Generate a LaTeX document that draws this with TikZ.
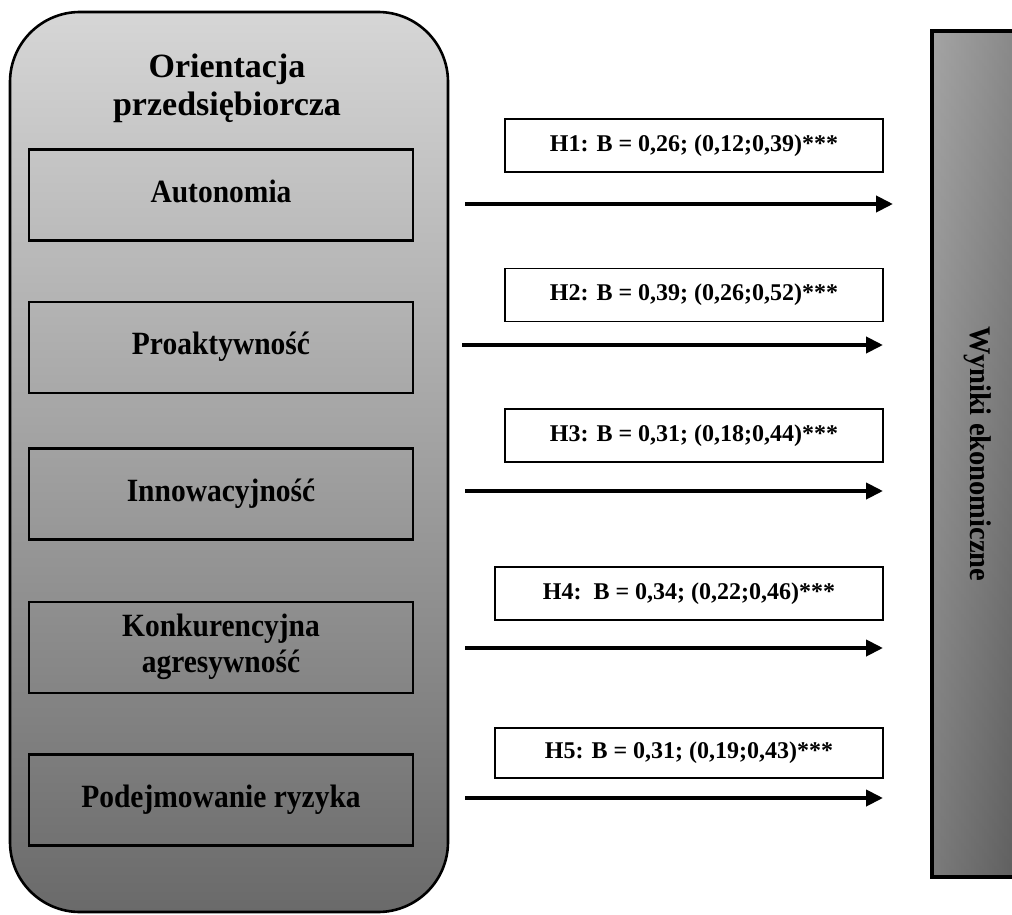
\documentclass[tikz,border=0pt]{standalone}
\usepackage{fontspec}
\setmainfont{Liberation Serif}
\usetikzlibrary{arrows.meta}
\definecolor{outerTop}{HTML}{D6D6D6}
\definecolor{outerBot}{HTML}{6A6A6A}
\definecolor{resLeft}{HTML}{939393}
\definecolor{resRight}{HTML}{707070}
% slightly tall lettering for the dimension labels
\newcommand\tallText[1]{\scalebox{1}[1.1]{\begin{tabular}{@{}c@{}}#1\end{tabular}}}
\begin{document}
\begin{tikzpicture}[x=1pt,y=-1pt,
  dimbox/.style={draw=black, line width=2.6pt, minimum width=384pt,
    minimum height=91pt, inner sep=0pt, align=center,
    font=\fontsize{29.5}{32}\selectfont\bfseries},
  effbox/.style={draw=black, fill=white, line width=1.2pt, minimum height=53pt,
    inner sep=0pt, font=\fontsize{24}{28}\selectfont\bfseries},
  effarrow/.style={line width=4pt, -{Triangle[length=17pt,width=16pt]}}]

\useasboundingbox (0,0) rectangle (1012,915);

% entrepreneurial orientation container
\node[draw=black, line width=2.6pt, rounded corners=70pt,
  minimum width=438pt, minimum height=900pt, inner sep=0pt,
  top color=outerTop, bottom color=outerBot] (eo) at (229,462) {};
\node[align=center, font=\fontsize{34}{38}\selectfont\bfseries] (title)
  at (227,88) {Orientacja\\przedsiębiorcza};

% dimensions
\node[dimbox] (d1) at (221,195)   {\tallText{Autonomia}};
\node[dimbox] (d2) at (221,347.5) {\tallText{Proaktywność}};
\node[dimbox] (d3) at (221,494)   {\tallText{Innowacyjność}};
\node[dimbox] (d4) at (221,647.5) {\tallText{Konkurencyjna\\agresywność}};
\node[dimbox] (d5) at (221,800)   {\tallText{Podejmowanie ryzyka}};

% economic results
\path[left color=resLeft, right color=resRight] (932,31) rectangle (1020,877);
\path[top color=white, bottom color=black, fill opacity=0.16]
  (932,31) rectangle (1020,877);
\draw[line width=3.4pt] (932,31) rectangle (1020,877);
\node[rotate=-90, font=\fontsize{30}{34}\selectfont\bfseries] (res)
  at (978,454) {\scalebox{0.95}[1]{Wyniki ekonomiczne}};

% hypothesis labels
\node[effbox, minimum width=378pt] (h1) at (694,145.5) {H1: B = 0,26; (0,12;0,39)***};
\node[effbox, minimum width=378pt] (h2) at (694,295)   {H2: B = 0,39; (0,26;0,52)***};
\node[effbox, minimum width=378pt] (h3) at (694,435.5) {H3: B = 0,31; (0,18;0,44)***};
\node[effbox, minimum width=388pt] (h4) at (689,593.5) {H4:\ \ B = 0,34; (0,22;0,46)***};
\node[effbox, minimum width=388pt, minimum height=50pt] (h5) at (689,753) {H5: B = 0,31; (0,19;0,43)***};

% effect arrows
\coordinate (s1) at (465,204); \coordinate (e1) at (893,204);
\coordinate (s2) at (462,345); \coordinate (e2) at (883,345);
\coordinate (s3) at (465,491); \coordinate (e3) at (883,491);
\coordinate (s4) at (465,648); \coordinate (e4) at (883,648);
\coordinate (s5) at (465,798); \coordinate (e5) at (883,798);
\foreach \i in {1,...,5} \draw[effarrow] (s\i) -- (e\i);
\end{tikzpicture}
\end{document}
